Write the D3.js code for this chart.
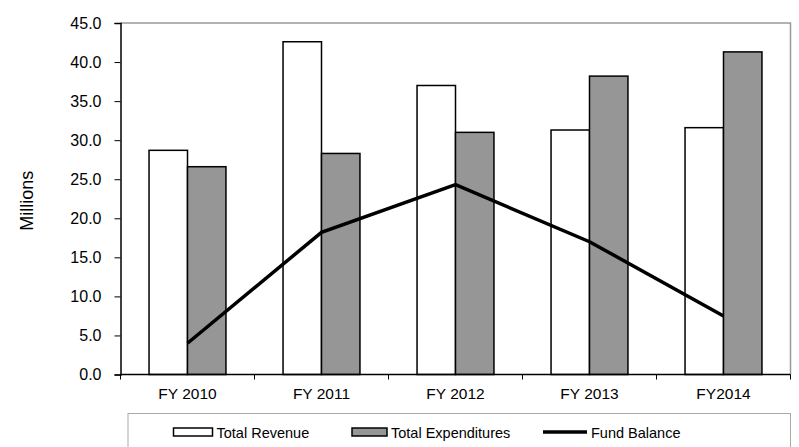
<!DOCTYPE html>
<html>
<head>
<meta charset="utf-8">
<script src="https://cdn.jsdelivr.net/npm/d3@7"></script>
<style>
  body { margin: 0; background: #fff; }
  text { font-family: "Liberation Sans", Arial, sans-serif; fill: #000; }
</style>
</head>
<body>
<div id="chart"></div>
<script>
// chart data
var years = ["FY 2010", "FY 2011", "FY 2012", "FY 2013", "FY2014"];
var revenue = [28.7, 42.6, 37.0, 31.3, 31.6];
var expenditures = [26.6, 28.3, 31.0, 38.2, 41.3];
var fundBalance = [4.0, 18.2, 24.3, 17.0, 7.5];
var yTicks = [0, 5, 10, 15, 20, 25, 30, 35, 40, 45];
var legendLabels = ["Total Revenue", "Total Expenditures", "Fund Balance"];

var svgWidth = 799;
var svgHeight = 447;
var margin = {top: 23, right: 8.5, bottom: 72.5, left: 120.5};
var width = svgWidth - margin.left - margin.right;
var height = svgHeight - margin.top - margin.bottom;

var svg = d3.select("#chart")
    .append("svg")
    .attr("width", svgWidth)
    .attr("height", svgHeight);

var chart = svg.append("g")
    .attr("transform", "translate(" + margin.left + "," + margin.top + ")");

var xScale = d3.scaleBand().domain(years).range([0, width]);
var yScale = d3.scaleLinear().domain([0, 45]).range([height, 0]);
var barW = xScale.bandwidth() * 0.287;

// frame (top and right)
chart.append("path")
    .attr("d", "M0,0H" + width + "V" + height)
    .attr("fill", "none")
    .attr("stroke", "#999")
    .attr("stroke-width", 1.5);

// revenue bars
chart.selectAll(".rev")
    .data(revenue)
    .enter()
    .append("rect")
    .attr("class", "rev")
    .attr("x", (d, i) => xScale(years[i]) + xScale.bandwidth() / 2 - barW)
    .attr("y", d => yScale(d))
    .attr("width", barW)
    .attr("height", d => height - yScale(d))
    .attr("fill", "#fff")
    .attr("stroke", "#000")
    .attr("stroke-width", 1.5);

// expenditure bars
chart.selectAll(".exp")
    .data(expenditures)
    .enter()
    .append("rect")
    .attr("class", "exp")
    .attr("x", (d, i) => xScale(years[i]) + xScale.bandwidth() / 2)
    .attr("y", d => yScale(d))
    .attr("width", barW)
    .attr("height", d => height - yScale(d))
    .attr("fill", "#969696")
    .attr("stroke", "#000")
    .attr("stroke-width", 1.5);

// fund balance line
var line = d3.line()
    .x((d, i) => xScale(years[i]) + xScale.bandwidth() / 2)
    .y(d => yScale(d));

chart.append("path")
    .datum(fundBalance)
    .attr("d", line)
    .attr("fill", "none")
    .attr("stroke", "#000")
    .attr("stroke-width", 3.5);

// y axis
var leftAxis = d3.axisLeft(yScale)
    .tickValues(yTicks)
    .tickFormat(d3.format(".1f"))
    .tickSize(6)
    .tickPadding(13);
var yAxis = chart.append("g").call(leftAxis);
yAxis.attr("font-size", null).attr("font-family", null);
yAxis.select(".domain").attr("stroke-width", 1.5);
yAxis.selectAll("text")
    .style("font-size", "16px")
    .attr("fill", "#000");

// x axis: ticks at category boundaries
var xAxis = chart.append("g").attr("transform", "translate(0," + height + ")");
xAxis.append("line")
    .attr("x1", 0).attr("x2", width)
    .attr("stroke", "#000").attr("stroke-width", 1.5);
xAxis.selectAll(".tk")
    .data(years.concat(["end"]))
    .enter()
    .append("line")
    .attr("x1", (d, i) => i * xScale.step())
    .attr("x2", (d, i) => i * xScale.step())
    .attr("y1", 0).attr("y2", 5)
    .attr("stroke", "#000").attr("stroke-width", 1);
xAxis.selectAll(".lbl")
    .data(years)
    .enter()
    .append("text")
    .attr("x", d => xScale(d) + xScale.bandwidth() / 2)
    .attr("y", 24.5)
    .attr("text-anchor", "middle")
    .style("font-size", "15.5px")
    .text(d => d);

// y axis label
svg.append("text")
    .attr("transform", "translate(33," + (margin.top + height / 2 + 2) + ") rotate(-90)")
    .attr("text-anchor", "middle")
    .style("font-size", "18px")
    .text("Millions");

// legend
var legend = svg.append("g");
legend.append("rect")
    .attr("x", 128).attr("y", 413.5)
    .attr("width", 662.5).attr("height", 40)
    .attr("fill", "#fff")
    .attr("stroke", "#aaa")
    .attr("stroke-width", 1);

var legendX = [173.5, 352, 543];
var swatchW = [39, 35, 44];
legendLabels.forEach(function(label, i) {
    var g = legend.append("g").attr("transform", "translate(" + legendX[i] + ",432)");
    if (i < 2) {
        g.append("rect")
            .attr("x", 0).attr("y", -4)
            .attr("width", swatchW[i]).attr("height", 8)
            .attr("fill", i === 0 ? "#fff" : "#969696")
            .attr("stroke", "#000").attr("stroke-width", 1.5);
    } else {
        g.append("line")
            .attr("x1", 0).attr("x2", swatchW[i])
            .attr("stroke", "#000").attr("stroke-width", 3.5);
    }
    g.append("text")
        .attr("x", swatchW[i] + 4)
        .attr("y", 5.5)
        .style("font-size", "14.5px")
        .text(label);
});
</script>
</body>
</html>
